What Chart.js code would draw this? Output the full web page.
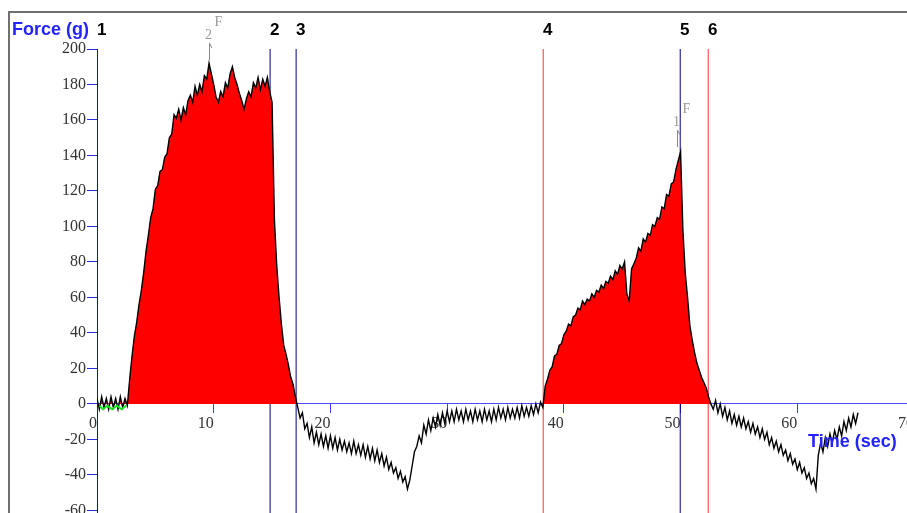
<!DOCTYPE html>
<html>
<head>
<meta charset="utf-8">
<script src="https://cdn.jsdelivr.net/npm/chart.js@4.4.1/dist/chart.umd.min.js"></script>
<style>
   html, body { margin: 0; padding: 0; background: #fff; overflow: hidden; }
   #wrap { width: 907px; height: 513px; overflow: hidden; position: relative; }
   canvas { position: absolute; left: 0; top: 0; }
</style>
</head>
<body>
<div id="wrap"><canvas id="force-chart" width="960" height="540"></canvas></div>
<script>
// force trace, one reading every 0.2 s starting at t = 0 (20 readings per row = 4 s)
const sampleStep = 0.2;
const forces = [
   3, -3, 4, -2, 3, -3, 4, -2, 3, -3, 4, -2, 3, -1, 14, 27, 38, 46, 56, 64,
   74, 86, 95, 105, 110, 121, 123, 131, 132, 139, 141, 150, 152, 163, 161, 166, 160, 167, 163, 171,
   174, 170, 179, 174, 180, 176, 185, 183, 192, 186, 180, 173, 170, 176, 173, 181, 178, 186, 190, 184,
   180, 175, 171, 166, 172, 176, 173, 181, 178, 184, 177, 183, 179, 184, 176, 170, 104, 78, 60, 45,
   33, 28, 22, 15, 11, 4, -2, -8, -5, -14, -11, -19, -13, -22, -16, -23, -17, -24, -18, -25,
   -18, -25, -19, -26, -20, -26, -21, -27, -22, -28, -21, -28, -23, -29, -23, -30, -24, -31, -25, -32,
   -26, -33, -28, -35, -30, -37, -33, -39, -36, -42, -38, -44, -41, -48, -43, -35, -27, -24, -18, -22,
   -12, -17, -9, -15, -8, -13, -6, -12, -5, -11, -4, -10, -4, -10, -3, -9, -4, -10, -3, -9,
   -4, -10, -3, -9, -4, -10, -3, -9, -4, -10, -3, -9, -2, -8, -3, -9, -2, -8, -3, -8,
   -2, -8, -1, -7, -2, -7, -1, -6, 0, -5, 1, -2, 10, 14, 19, 21, 27, 28, 33, 34,
   39, 41, 45, 44, 49, 50, 54, 53, 58, 56, 59, 58, 62, 60, 64, 63, 67, 65, 69, 68,
   72, 70, 75, 73, 78, 76, 80, 62, 58, 76, 79, 82, 88, 86, 93, 91, 96, 95, 101, 100,
   105, 104, 111, 110, 118, 117, 124, 125, 132, 137, 142, 98, 74, 60, 44, 36, 29, 23, 19, 15,
   12, 9, 4, 0, -3, 2, -5, 0, -7, -2, -9, -4, -11, -6, -12, -7, -13, -8, -14, -10,
   -16, -11, -17, -13, -19, -14, -20, -16, -23, -19, -25, -21, -27, -23, -29, -26, -32, -28, -34, -31,
   -37, -33, -39, -36, -42, -39, -45, -42, -48, -29, -22, -27, -19, -24, -17, -22, -15, -20, -13, -18,
   -10, -15, -8, -13, -6, -11, -5
];

// green baseline readings before the first pull
const baseTimes = [0.2, 0.5, 0.9, 1.3, 1.7, 2.1, 2.5];
const baseForces = [-1, -3, -1, -3, -1, -3, -1];

// cursor markers
const markerLabels = ['1', '2', '3', '4', '5', '6'];
const markerTimes = [0, 14.83, 17.06, 38.23, 49.97, 52.37];
const markerColors = ['#00007f', '#00007f', '#00007f', '#ff3030', '#00007f', '#ff3030'];

// peak events
const eventLabels = ['2', '1'];
const eventTimes = [9.6, 49.72];
const eventForces = [192, 143];

const xMin = 0, xMax = 70, xStep = 10;
const yMin = -66, yMax = 200, yStep = 20;

const traceData = forces.map((f, i) => ({ x: +(i * sampleStep).toFixed(1), y: f }));

const markerSets = markerTimes.map((t, i) => ({
   data: [{ x: t, y: yMin }, { x: t, y: yMax }],
   borderColor: markerColors[i],
   borderWidth: 1,
   pointRadius: 0,
   fill: false,
   order: 3
}));

const decorations = {
   id: 'decorations',
   beforeDraw(chart) {
      const ctx = chart.ctx;
      ctx.save();
      ctx.fillStyle = '#fff';
      ctx.fillRect(0, 0, chart.width, chart.height);
      ctx.strokeStyle = '#707070';
      ctx.lineWidth = 2;
      ctx.beginPath();
      ctx.moveTo(9, chart.height);
      ctx.lineTo(9, 12);
      ctx.lineTo(chart.width, 12);
      ctx.stroke();
      ctx.restore();
   },
   afterDraw(chart) {
      const { ctx, scales: { x, y } } = chart;
      ctx.save();
      ctx.textBaseline = 'middle';
      ctx.textAlign = 'left';
      ctx.font = 'bold 18px "Liberation Sans"';
      ctx.fillStyle = '#2323ff';
      ctx.fillText('Force (g)', 12, 30);
      ctx.fillText('Time (sec)', 808, 442);

      ctx.fillStyle = '#000';
      ctx.font = 'bold 17px "Liberation Sans"';
      markerLabels.forEach((lbl, i) => {
         ctx.fillText(lbl, Math.round(x.getPixelForValue(markerTimes[i])), 30);
      });

      // event arrows with their labels
      eventLabels.forEach((lbl, i) => {
         const px = Math.round(x.getPixelForValue(eventTimes[i])) + 0.5;
         const py = y.getPixelForValue(eventForces[i]);
         ctx.strokeStyle = '#8a8a8a';
         ctx.lineWidth = 1;
         ctx.beginPath();
         ctx.moveTo(px, py - 3);
         ctx.lineTo(px, py - 20);
         ctx.lineTo(px + 2.5, py - 15);
         ctx.stroke();
         ctx.fillStyle = '#999';
         ctx.font = '14px "Liberation Serif"';
         ctx.textAlign = 'center';
         ctx.fillText(lbl, px - 1, py - 28);
         ctx.fillText('F', px + 9, py - 41);
      });
      ctx.restore();
   }
};

new Chart(document.getElementById('force-chart'), {
   type: 'line',
   data: {
      datasets: [
         {
            data: traceData,
            borderColor: '#000',
            borderWidth: 1.4,
            pointRadius: 0,
            tension: 0,
            fill: { target: 'origin', above: '#ff0000', below: 'rgba(0,0,0,0)' },
            order: 1
         },
         {
            data: baseTimes.map((t, i) => ({ x: t, y: baseForces[i] })),
            borderColor: '#19e019',
            borderWidth: 2,
            pointRadius: 0,
            fill: false,
            order: 0
         },
         ...markerSets
      ]
   },
   plugins: [decorations],
   options: {
      responsive: false,
      devicePixelRatio: 1,
      animation: false,
      layout: { padding: { left: 0, top: 49, right: 46, bottom: 19 } },
      scales: {
         x: {
            type: 'linear',
            position: { y: 0 },
            min: xMin,
            max: xMax,
            grid: { drawOnChartArea: false, tickLength: 9, color: '#3c3cff' },
            border: { color: '#4a4aff', width: 1 },
            ticks: {
               stepSize: xStep,
               align: 'end',
               padding: 1,
               maxRotation: 0,
               color: '#333',
               font: { family: '"Liberation Serif"', size: 16 }
            }
         },
         y: {
            min: yMin,
            max: yMax,
            afterFit: s => { s.width = 97; },
            grid: { drawOnChartArea: false, tickLength: 10, color: '#2a2ae0' },
            border: { color: '#2a2ae0', width: 1 },
            ticks: {
               stepSize: yStep,
               includeBounds: false,
               padding: 1,
               color: '#333',
               font: { family: '"Liberation Serif"', size: 16 }
            }
         }
      },
      plugins: {
         legend: { display: false },
         tooltip: { enabled: false }
      }
   }
});
</script>
</body>
</html>
